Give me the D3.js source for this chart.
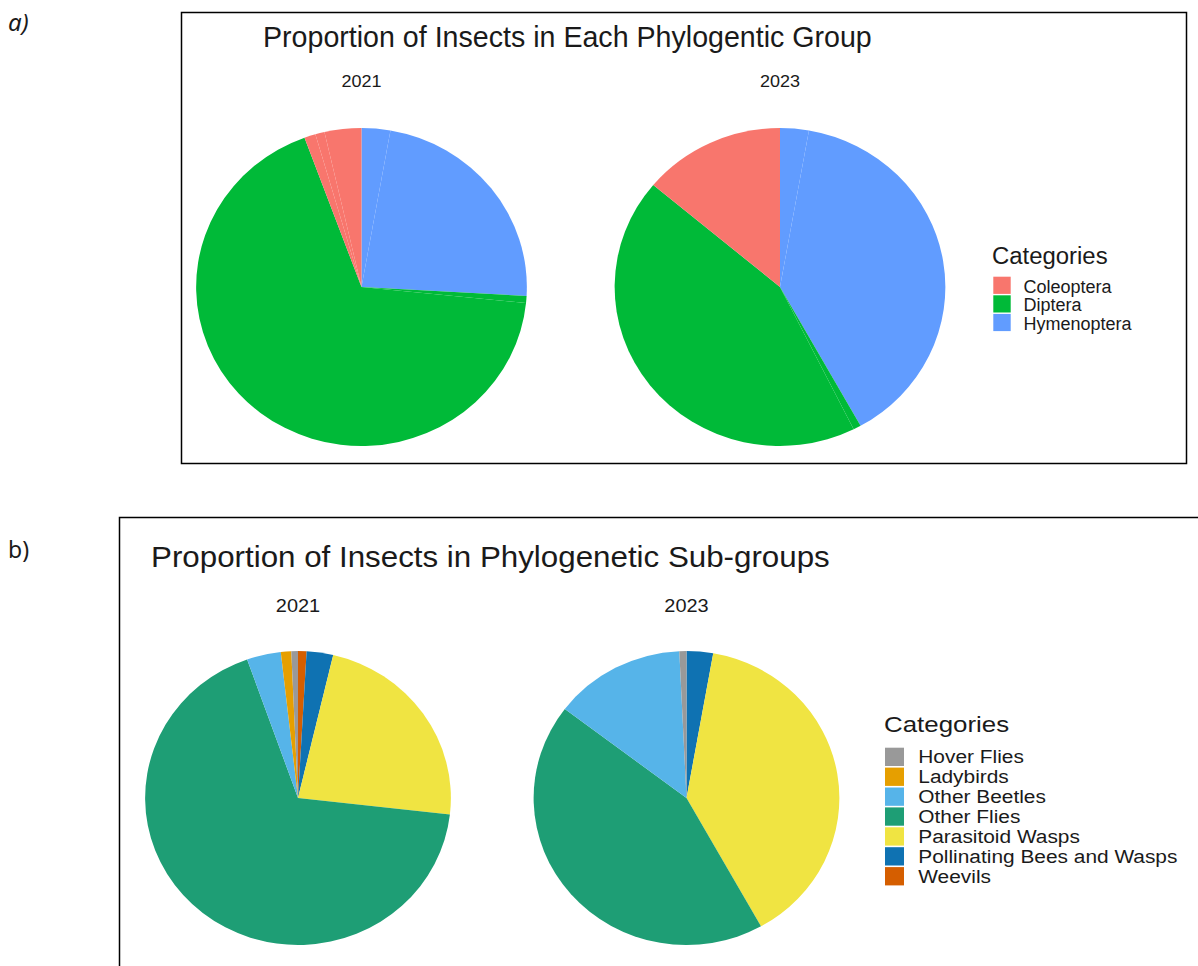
<!DOCTYPE html>
<html>
<head>
<meta charset="utf-8">
<script src="https://cdnjs.cloudflare.com/ajax/libs/d3/7.8.5/d3.min.js"></script>
<style>
  html, body { margin: 0; padding: 0; background: #fff; }
  svg { display: block; }
  text { font-family: "Liberation Sans", Arial, sans-serif; fill: #1a1a1a; }
</style>
</head>
<body>
<svg id="chart" width="1198" height="966"></svg>
<script>
// ---------------- data ----------------
const years = ["2021", "2023"];
const subgroups = ["Hover Flies", "Ladybirds", "Other Beetles", "Other Flies",
                   "Parasitoid Wasps", "Pollinating Bees and Wasps", "Weevils"];
const parentGroup = ["Diptera", "Coleoptera", "Coleoptera", "Diptera",
                     "Hymenoptera", "Hymenoptera", "Coleoptera"];
// percentage of insects per sub-group
const values2021 = [0.7, 1.1, 3.6, 67.8, 23.1, 2.8, 0.9];
const values2023 = [0.75, 0, 13.9, 43.45, 39.1, 2.8, 0];
const groups = ["Coleoptera", "Diptera", "Hymenoptera"];
const groupColors = ["#F8766D", "#00BA38", "#619CFF"];
const subColors = ["#999999", "#E69F00", "#56B4E9", "#1E9E75", "#F0E442", "#0F72B2", "#D55E00"];
// clockwise drawing order from 12 o'clock
const topOrder = ["Pollinating Bees and Wasps", "Parasitoid Wasps", "Hover Flies", "Other Flies",
                  "Ladybirds", "Weevils", "Other Beetles"];
const bottomOrder = subgroups.slice().reverse();
const titleA = "Proportion of Insects in Each Phylogentic Group";
const titleB = "Proportion of Insects in Phylogenetic Sub-groups";
const legendTitle = "Categories";

// ---------------- helpers ----------------
const svg = d3.select("#chart");
const valuesByYear = { "2021": values2021, "2023": values2023 };

function txt(x, y, s, size, opts = {}) {
  const sx = opts.sx || 1;
  const t = svg.append("text")
    .attr("transform", `translate(${x},${y}) scale(${sx},1)`)
    .attr("font-size", size)
    .attr("text-anchor", opts.anchor || "start")
    .text(s);
  if (opts.family) t.style("font-family", opts.family);
  if (opts.italic) t.attr("font-style", "italic");
  return t;
}

const stretch = 1.04;
function drawPie(cx, cy, r, rows, colorOf) {
  const g = svg.append("g").attr("transform", `translate(${cx},${cy}) scale(${stretch},1)`);
  const pie = d3.pie().sort(null).value(d => d.value);
  const arc = d3.arc().innerRadius(0).outerRadius(r);
  g.selectAll("path").data(pie(rows)).join("path")
    .attr("d", arc)
    .attr("fill", d => colorOf(d.data));
}

// ---------------- panel a ----------------
svg.append("rect").attr("x", 181.5).attr("y", 12.5).attr("width", 1005).attr("height", 451)
  .attr("fill", "none").attr("stroke", "#000").attr("stroke-width", 1.5);
txt(8, 31, "a)", 24, { italic: true, family: "'Noto Sans', sans-serif" });
txt(263, 47, titleA, 28.6);

const topCenters = [361.5, 780];
years.forEach((yr, i) => {
  const vals = valuesByYear[yr];
  const rows = topOrder.map(s => {
    const k = subgroups.indexOf(s);
    return { name: s, group: parentGroup[k], value: vals[k] };
  });
  drawPie(topCenters[i], 287, 159, rows, d => groupColors[groups.indexOf(d.group)]);
  txt(topCenters[i], 87, yr, 17, { anchor: "middle", sx: 1.06 });
});

// legend a
txt(992, 263.5, legendTitle, 23, { sx: 1.04 });
groups.forEach((gname, i) => {
  const y0 = 276.7 + i * 18.6;
  svg.append("rect").attr("x", 993.3).attr("y", y0).attr("width", 17.4).attr("height", 17.2)
    .attr("fill", groupColors[i]);
  txt(1023.5, y0 + 16.1, gname, 18);
});

// ---------------- panel b ----------------
svg.append("rect").attr("x", 119.5).attr("y", 517.5).attr("width", 1100).attr("height", 500)
  .attr("fill", "none").attr("stroke", "#000").attr("stroke-width", 1.5);
txt(8, 558, "b)", 23, { family: "'Noto Sans', sans-serif" });
txt(151, 567, titleB, 29, { sx: 1.08 });

const botCenters = [298, 686.5];
years.forEach((yr, i) => {
  const vals = valuesByYear[yr];
  const rows = bottomOrder.map(s => {
    const k = subgroups.indexOf(s);
    return { name: s, value: vals[k] };
  });
  drawPie(botCenters[i], 798, 147, rows, d => subColors[subgroups.indexOf(d.name)]);
  txt(botCenters[i], 612, yr, 17.5, { anchor: "middle", sx: 1.14 });
});

// legend b
txt(884, 732, legendTitle, 22.5, { sx: 1.15 });
subgroups.forEach((s, i) => {
  const y0 = 747.7 + i * 19.9;
  svg.append("rect").attr("x", 885).attr("y", y0).attr("width", 19).attr("height", 18.3)
    .attr("fill", subColors[i]);
  txt(918.3, y0 + 15.6, s, 18, { sx: 1.16 });
});
</script>
</body>
</html>
